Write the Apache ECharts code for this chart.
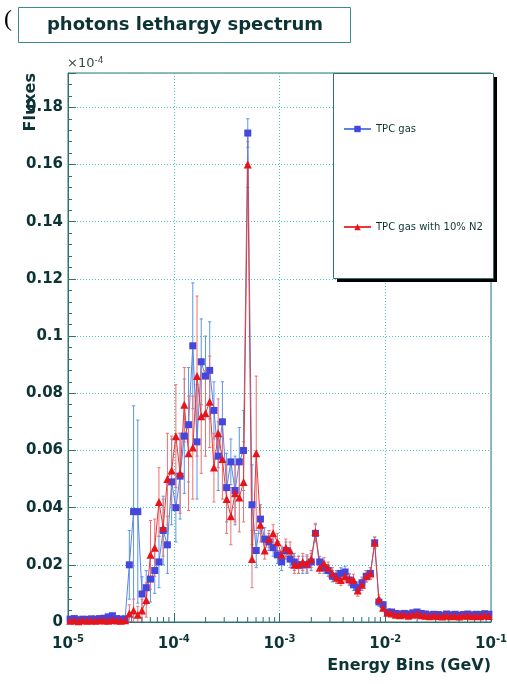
<!DOCTYPE html>
<html>
<head>
<meta charset="utf-8">
<title>photons lethargy spectrum</title>
<script src="https://cdn.jsdelivr.net/npm/echarts@6/dist/echarts.min.js"></script>
<style>
html, body { margin: 0; padding: 0; background: #fff; }
#main { width: 507px; height: 684px; }
</style>
</head>
<body>
<div id="main"></div>
<script>
// log binning of the histogram: 25 bins per decade from 1e-5 GeV
var binsPerDecade = 25;
var firstDecade = -5;

// flux values in units of 1e-4 (as on the axis)
var tpcGas = [
  0.0010, 0.0012, 0.0008, 0.0010, 0.0009, 0.0011, 0.0010, 0.0012, 0.0013, 0.0018, 0.0022, 0.0012, 0.0010, 0.0011,
  0.020, 0.0386, 0.0386, 0.0098, 0.012, 0.015, 0.018, 0.021, 0.032, 0.027, 0.049,
  0.040, 0.051, 0.065, 0.069, 0.0966, 0.063, 0.091, 0.086, 0.088, 0.074,
  0.058, 0.070, 0.047, 0.056, 0.046, 0.056, 0.060, 0.171, 0.041, 0.025,
  0.036, 0.029, 0.028, 0.026, 0.0235, 0.021, 0.025, 0.022, 0.021, 0.020,
  0.020, 0.020, 0.021, 0.031, 0.021, 0.019, 0.018, 0.016, 0.016, 0.017,
  0.0175, 0.0147, 0.013, 0.012, 0.0137, 0.016, 0.017, 0.0277, 0.007, 0.006,
  0.0035, 0.0035, 0.0030, 0.0028, 0.0030, 0.0028, 0.0032, 0.0035, 0.0030, 0.0028, 0.0025, 0.0027, 0.0026,
  0.0024, 0.0028, 0.0025, 0.0027, 0.0024, 0.0026, 0.0028, 0.0025, 0.0027, 0.0026, 0.0029, 0.0027
];
var tpcGasErr = [
  0.0008, 0.0008, 0.0008, 0.0008, 0.0008, 0.0008, 0.0008, 0.0008, 0.0008, 0.0008, 0.0008, 0.0008, 0.0008, 0.0008,
  0.012, 0.037, 0.032, 0.006, 0.006, 0.008, 0.008, 0.009, 0.012, 0.010, 0.015,
  0.012, 0.015, 0.020, 0.020, 0.022, 0.020, 0.015, 0.014, 0.017, 0.010,
  0.012, 0.014, 0.012, 0.008, 0.012, 0.012, 0.014, 0.005, 0.014, 0.006,
  0.005, 0.004, 0.003, 0.003, 0.003, 0.003, 0.003, 0.003, 0.003, 0.003,
  0.003, 0.003, 0.003, 0.003, 0.002, 0.002, 0.002, 0.002, 0.002, 0.002,
  0.002, 0.002, 0.002, 0.002, 0.002, 0.002, 0.002, 0.002, 0.0015, 0.0012,
  0.0008, 0.0008, 0.0008, 0.0008, 0.0008, 0.0008, 0.0008, 0.0008, 0.0008, 0.0008, 0.0008, 0.0008, 0.0008,
  0.0008, 0.0008, 0.0008, 0.0008, 0.0008, 0.0008, 0.0008, 0.0008, 0.0008, 0.0008, 0.0008, 0.0008
];
var tpcN2 = [
  0.0004, 0.0005, 0.0003, 0.0006, 0.0004, 0.0005, 0.0004, 0.0006, 0.0005, 0.0004, 0.0007, 0.0005, 0.0004, 0.0006,
  0.003, 0.004, 0.0025, 0.004, 0.0077, 0.0235, 0.026, 0.042, 0.033, 0.050, 0.053,
  0.065, 0.052, 0.076, 0.059, 0.061, 0.086, 0.072, 0.073, 0.077, 0.054,
  0.066, 0.057, 0.043, 0.037, 0.045, 0.0435, 0.049, 0.160, 0.022, 0.059,
  0.034, 0.025, 0.029, 0.031, 0.028, 0.0235, 0.026, 0.025, 0.020, 0.020,
  0.021, 0.0205, 0.022, 0.0315, 0.019, 0.0205, 0.019, 0.017, 0.0155, 0.0147,
  0.016, 0.015, 0.0147, 0.011, 0.013, 0.016, 0.017, 0.0277, 0.008, 0.005,
  0.0032, 0.0030, 0.0025, 0.0024, 0.0026, 0.0022, 0.0025, 0.0028, 0.0024, 0.0022, 0.0020, 0.0022, 0.0021,
  0.0019, 0.0022, 0.0020, 0.0021, 0.0019, 0.0022, 0.0023, 0.0020, 0.0021, 0.0020, 0.0023, 0.0021
];
var tpcN2Err = [
  0.0005, 0.0005, 0.0005, 0.0005, 0.0005, 0.0005, 0.0005, 0.0005, 0.0005, 0.0005, 0.0005, 0.0005, 0.0005, 0.0005,
  0.003, 0.004, 0.003, 0.004, 0.006, 0.012, 0.010, 0.012, 0.010, 0.016, 0.012,
  0.018, 0.014, 0.013, 0.020, 0.018, 0.028, 0.020, 0.015, 0.016, 0.012,
  0.012, 0.014, 0.012, 0.010, 0.010, 0.012, 0.014, 0.008, 0.010, 0.027,
  0.006, 0.003, 0.003, 0.003, 0.003, 0.003, 0.003, 0.003, 0.003, 0.003,
  0.003, 0.003, 0.003, 0.003, 0.002, 0.002, 0.002, 0.002, 0.002, 0.002,
  0.002, 0.002, 0.002, 0.002, 0.002, 0.002, 0.002, 0.002, 0.0015, 0.0012,
  0.0006, 0.0006, 0.0006, 0.0006, 0.0006, 0.0006, 0.0006, 0.0006, 0.0006, 0.0006, 0.0006, 0.0006, 0.0006,
  0.0006, 0.0006, 0.0006, 0.0006, 0.0006, 0.0006, 0.0006, 0.0006, 0.0006, 0.0006, 0.0006, 0.0006
];

// axis decoration
var xDecades = [-5, -4, -3, -2];
var xMinorMult = [2, 3, 4, 5, 6, 7, 8, 9];
var yMin = 0, yMax = 0.192, yStep = 0.02;

var seriesNames = ['TPC gas', 'TPC gas with 10% N2'];

var energies = tpcGas.map(function (v, i) {
  return Math.pow(10, firstDecade + (i + 0.5) / binsPerDecade);
});
var xMinorTicks = [];
xDecades.forEach(function (d) {
  xMinorMult.forEach(function (m) { xMinorTicks.push(m * Math.pow(10, d)); });
});

var ink = '#0d3434';
var frame = '#2e7272';
var gridCol = '#46c4c4';
var font = 'DejaVu Sans';

function pairs(vals) {
  return vals.map(function (v, i) { return [energies[i], v]; });
}

function errorSeries(vals, errs, color) {
  return {
    type: 'custom',
    silent: true,
    clip: true,
    data: vals.map(function (v, i) { return [energies[i], Math.max(v - errs[i], 0), v + errs[i]]; }),
    encode: { x: 0, y: [1, 2] },
    renderItem: function (params, api) {
      var lo = api.coord([api.value(0), api.value(1)]);
      var hi = api.coord([api.value(0), api.value(2)]);
      var w = 1.6;
      var st = { stroke: color, lineWidth: 1 };
      return {
        type: 'group',
        children: [
          { type: 'line', shape: { x1: lo[0], y1: lo[1], x2: hi[0], y2: hi[1] }, style: st },
          { type: 'line', shape: { x1: hi[0] - w, y1: hi[1], x2: hi[0] + w, y2: hi[1] }, style: st },
          { type: 'line', shape: { x1: lo[0] - w, y1: lo[1], x2: lo[0] + w, y2: lo[1] }, style: st }
        ]
      };
    }
  };
}

var chart = echarts.init(document.getElementById('main'), null, { renderer: 'canvas' });

var option = {
  animation: false,
  backgroundColor: '#fff',
  grid: {
    left: 68, right: 16, top: 73, bottom: 62,
    show: true, borderColor: frame, borderWidth: 1, backgroundColor: 'transparent',
    outerBoundsMode: 'none'
  },
  legend: {
    data: seriesNames,
    orient: 'vertical',
    left: 338, top: 119,
    itemGap: 88,
    itemWidth: 27, itemHeight: 8,
    z: 20,
    textStyle: { fontFamily: font, fontSize: 10, color: ink }
  },
  xAxis: {
    type: 'log', logBase: 10, min: 1e-5, max: 0.1,
    axisLine: { show: true, lineStyle: { color: frame, width: 1 } },
    axisTick: { show: true, inside: true, length: 9, lineStyle: { color: frame } },
    minorTick: { show: false },
    splitLine: { show: true, lineStyle: { color: gridCol, type: [1, 2], width: 1 } },
    axisLabel: {
      margin: 12,
      formatter: function (v) {
        return '{b|10}{s|' + Math.round(Math.log10(v)) + '}';
      },
      rich: {
        b: { fontFamily: font, fontWeight: 'bold', fontSize: 15, color: ink, lineHeight: 20 },
        s: { fontFamily: font, fontWeight: 'bold', fontSize: 10, color: ink, verticalAlign: 'top', lineHeight: 12 }
      }
    }
  },
  yAxis: {
    type: 'value', min: yMin, max: yMax, interval: yStep,
    axisLine: { show: true, lineStyle: { color: frame, width: 1 } },
    axisTick: { show: true, inside: true, length: 8, lineStyle: { color: frame } },
    minorTick: { show: true, splitNumber: 5, length: 4, lineStyle: { color: frame } },
    splitLine: { show: true, lineStyle: { color: gridCol, type: [1, 2], width: 1 } },
    axisLabel: {
      margin: 5, showMaxLabel: false,
      fontFamily: font, fontWeight: 'bold', fontSize: 15, color: ink,
      formatter: function (v) { return v === 0 ? '0' : String(+v.toFixed(2)); }
    }
  },
  graphic: [
    { type: 'text', left: 4, top: 8, z: 10,
      style: { text: '(', font: '24px "Liberation Serif"', fill: '#000' } },
    { type: 'rect', shape: { x: 18.5, y: 7.5, width: 332, height: 35 }, z: 10,
      style: { fill: '#fff', stroke: '#3a8c8c', lineWidth: 1 } },
    { type: 'text', x: 185, y: 25, z: 11,
      style: { text: 'photons lethargy spectrum', font: 'bold 18px "DejaVu Sans"', fill: ink,
        align: 'center', verticalAlign: 'middle' } },
    { type: 'text', x: 67, y: 64, z: 11,
      style: { text: '{a|\u00d710}{b|-4}', verticalAlign: 'middle',
        rich: {
          a: { fontFamily: font, fontSize: 13, fill: '#3a4a4a', lineHeight: 16 },
          b: { fontFamily: font, fontSize: 9, fill: '#3a4a4a', verticalAlign: 'top', lineHeight: 10 }
        } } },
    { type: 'text', x: 31, y: 73, rotation: Math.PI / 2, z: 11,
      style: { text: 'Fluxes', font: 'bold 16px "DejaVu Sans"', fill: ink,
        align: 'right', verticalAlign: 'middle' } },
    { type: 'text', x: 491, y: 666, z: 11,
      style: { text: 'Energy Bins (GeV)', font: 'bold 16px "DejaVu Sans"', fill: ink,
        align: 'right', verticalAlign: 'middle' } },
    // legend box with its drop shadow
    { type: 'rect', shape: { x: 337, y: 77, width: 160, height: 205 }, z: 8,
      style: { fill: '#000' } },
    { type: 'rect', shape: { x: 333.5, y: 73.5, width: 160, height: 205 }, z: 9,
      style: { fill: '#fff', stroke: frame, lineWidth: 1 } }
  ],
  series: [
    errorSeries(tpcGas, tpcGasErr, '#5d96e6'),
    {
      name: seriesNames[0], type: 'line', data: pairs(tpcGas),
      symbol: 'rect', symbolSize: 7, showAllSymbol: true,
      lineStyle: { color: '#5b84e4', width: 1 },
      itemStyle: { color: '#4646dc' },
      clip: true
    },
    errorSeries(tpcN2, tpcN2Err, '#ee7070'),
    {
      name: seriesNames[1], type: 'line', data: pairs(tpcN2),
      symbol: 'triangle', symbolSize: 8, showAllSymbol: true,
      lineStyle: { color: '#e83838', width: 1 },
      itemStyle: { color: '#e8141c' },
      clip: true
    },
    {
      // log minor ticks on the energy axis
      type: 'custom', silent: true,
      data: xMinorTicks.map(function (v) { return [v, 0]; }),
      encode: { x: 0, y: 1 },
      renderItem: function (params, api) {
        var p = api.coord([api.value(0), 0]);
        return { type: 'line', shape: { x1: p[0], y1: p[1], x2: p[0], y2: p[1] - 5 },
          style: { stroke: frame, lineWidth: 1 } };
      }
    }
  ]
};

chart.setOption(option);
</script>
</body>
</html>
